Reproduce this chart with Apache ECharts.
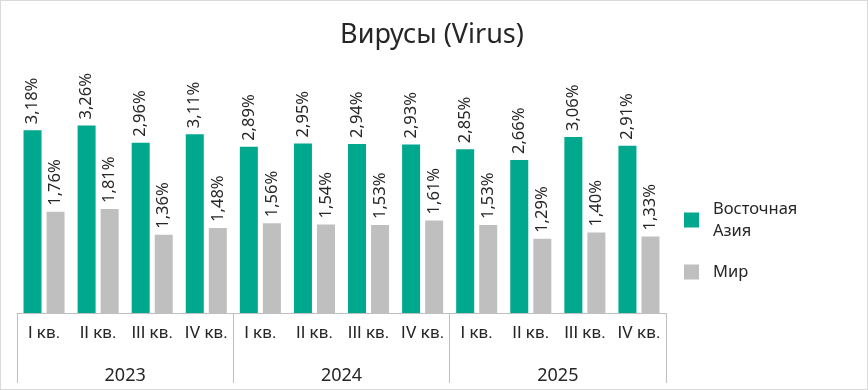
<!DOCTYPE html>
<html>
<head>
<meta charset="utf-8">
<script src="https://cdn.jsdelivr.net/npm/echarts@6/dist/echarts.min.js"></script>
<style>
html,body{margin:0;padding:0;background:#fff;}
#c{width:868px;height:390px;box-sizing:border-box;border:1px solid #d9d9d9;}
</style>
</head>
<body>
<div id="c"></div>
<script>
const title = 'Вирусы (Virus)';
const quarters = ['I кв.','II кв.','III кв.','IV кв.','I кв.','II кв.','III кв.','IV кв.','I кв.','II кв.','III кв.','IV кв.'];
const years = ['2023','2024','2025'];
const seriesNames = ['Восточная Азия','Мир'];
const eastAsia = [3.18,3.26,2.96,3.11,2.89,2.95,2.94,2.93,2.85,2.66,3.06,2.91];
const world = [1.76,1.81,1.36,1.48,1.56,1.54,1.53,1.61,1.53,1.29,1.40,1.33];

const FONT = "'Noto Sans', sans-serif";
const AXFONT = "Roboto, 'Noto Sans', sans-serif";
const TXT = '#262626';
const chart = echarts.init(document.getElementById('c'), null, {renderer:'canvas'});
const lbl = {
  show:true, position:'top', rotate:90, distance:6, align:'left', verticalAlign:'middle',
  fontFamily:FONT, fontSize:16.5, color:TXT,
  formatter: p => p.value.toFixed(2).replace('.', ',') + '%'
};
chart.setOption({
  animation:false,
  title:{text:title, left:426, top:16, textAlign:'center',
    textStyle:{fontFamily:FONT, fontSize:27, fontWeight:'normal', color:TXT}},
  legend:{orient:'vertical', left:678, top:192, itemWidth:15, itemHeight:15, itemGap:19,
    icon:'rect',
    formatter: n => n.replace(' ', '\n'),
    textStyle:{fontFamily:FONT, fontSize:16.5, color:TXT, lineHeight:22, padding:[0,0,0,9]}},
  grid:{left:16, right:201, top:82, bottom:76},
  xAxis:[
    {type:'category', data:quarters, position:'bottom',
      axisLine:{lineStyle:{color:'#BFBFBF'}},
      axisTick:{alignWithLabel:true, length:7, lineStyle:{color:'#BFBFBF'}},
      axisLabel:{interval:0, margin:12, fontFamily:AXFONT, fontSize:17, color:TXT}},
    {type:'category', data:years, position:'bottom',
      axisLine:{show:false},
      axisTick:{show:true, length:70, interval:0, lineStyle:{color:'#BFBFBF'}},
      axisLabel:{interval:0, margin:54, fontFamily:FONT, fontSize:18, color:TXT}}
  ],
  yAxis:{type:'value', min:0, max:4, show:false, splitLine:{show:false}},
  series:[
    {name:seriesNames[0], type:'bar', data:eastAsia, barWidth:18, barGap:'28%',
      itemStyle:{color:'#00A88E'}, label:lbl},
    {name:seriesNames[1], type:'bar', data:world, barWidth:18, barGap:'28%',
      itemStyle:{color:'#BFBFBF'}, label:lbl}
  ]
});
</script>
</body>
</html>
